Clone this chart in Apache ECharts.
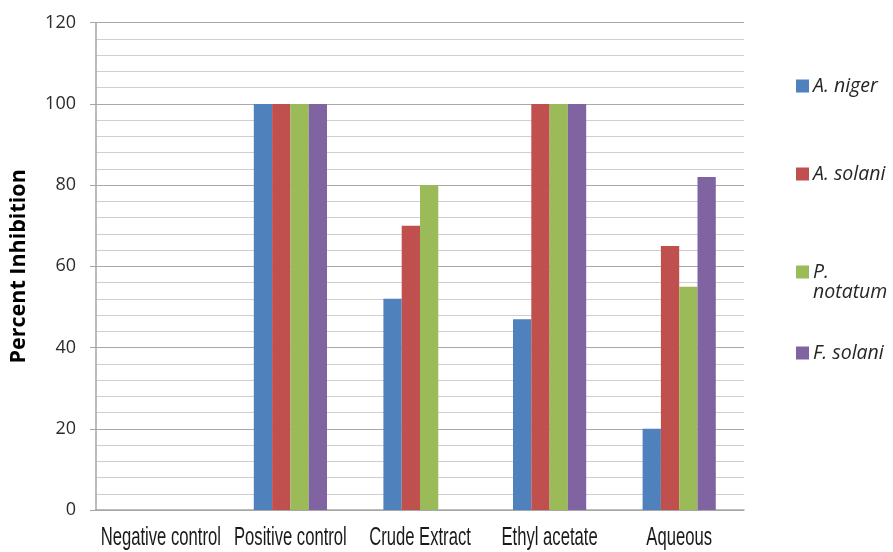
<!DOCTYPE html>
<html>
<head>
<meta charset="utf-8">
<script src="https://cdn.jsdelivr.net/npm/echarts@6/dist/echarts.min.js"></script>
<style>
  html, body { margin: 0; padding: 0; background: #fff; }
  #chart { width: 893px; height: 552px; }
</style>
</head>
<body>
<div id="chart"></div>
<script>
// Treatments along the x axis
const categories = ['Negative control', 'Positive control', 'Crude Extract', 'Ethyl acetate', 'Aqueous'];

// Percent inhibition per fungus
const aNiger    = [0, 100, 52, 47, 20];
const aSolani   = [0, 100, 70, 100, 65];
const pNotatum  = [0, 100, 80, 100, 55];
const fSolani   = [0, 100, 0, 100, 82];

const seriesNames  = ['A. niger', 'A. solani', 'P. notatum', 'F. solani'];
const seriesColors = ['#4F81BD', '#C0504D', '#9BBB59', '#8064A2'];
const seriesData   = [aNiger, aSolani, pNotatum, fSolani];

const yTicks = { min: 0, max: 120, interval: 20 };

const chart = echarts.init(document.getElementById('chart'), null, { renderer: 'canvas' });

// One legend block per fungus so each sits at its own height on the right
const LINE_H = 20;
const legendTops = [76, 164, 242, 343];
const legends = seriesNames.map((name, i) => ({
  data: [name],
  orient: 'vertical',
  left: 796,
  top: legendTops[i],
  padding: 0,
  itemWidth: 13,
  itemHeight: 13,
  itemGap: 0,
  selectedMode: false,
  icon: 'rect',
  // the long name wraps; a blank first line keeps the swatch beside "P."
  formatter: n => (n === 'P. notatum' ? ' \nP.\nnotatum' : n),
  textStyle: {
    fontFamily: 'Open Sans',
    fontStyle: 'italic',
    fontSize: 19.5,
    color: '#262626',
    lineHeight: LINE_H,
    padding: [0, 0, 0, -1]
  }
}));

const option = {
  animation: false,
  backgroundColor: '#ffffff',
  grid: { left: 95, right: 149, top: 22.7, bottom: 42, containLabel: false },
  legend: legends,
  xAxis: {
    type: 'category',
    data: categories,
    axisLine: { lineStyle: { color: '#a6a6a6', width: 1.5 } },
    axisTick: { show: false },
    axisLabel: { show: false },
    splitLine: { show: false }
  },
  yAxis: {
    type: 'value',
    min: yTicks.min,
    max: yTicks.max,
    interval: yTicks.interval,
    name: 'Percent Inhibition',
    nameLocation: 'middle',
    nameGap: 66,
    nameTextStyle: { fontFamily: 'Open Sans', fontWeight: 'bold', fontSize: 21.5, color: '#000' },
    axisLine: { show: true, lineStyle: { color: '#a6a6a6', width: 1.5 } },
    axisTick: { show: true, length: 6, lineStyle: { color: '#a6a6a6' } },
    axisLabel: { fontFamily: 'Open Sans', fontSize: 18, color: '#2b2b2b', margin: 20 },
    splitLine: { show: true, lineStyle: { color: '#a9a9a9', width: 1 } },
    minorTick: { show: false, splitNumber: 5 },
    minorSplitLine: { show: true, lineStyle: { color: '#cfcfcf', width: 1 } }
  },
  series: seriesData.map((d, i) => ({
    name: seriesNames[i],
    type: 'bar',
    data: d,
    barWidth: 18.3,
    barGap: '0%',
    itemStyle: { color: seriesColors[i] }
  }))
};

chart.setOption(option);

// Condensed category labels placed at each category's axis position
const labelGraphics = categories.map(c => {
  const p = chart.convertToPixel({ xAxisIndex: 0, yAxisIndex: 0 }, [c, 0]);
  return {
    type: 'text',
    x: p[0],
    y: 538,
    scaleX: 0.64,
    style: {
      text: c,
      fontFamily: 'Liberation Sans',
      fontSize: 26,
      fill: '#1a1a1a',
      align: 'center',
      verticalAlign: 'middle'
    }
  };
});
chart.setOption({ graphic: labelGraphics });
</script>
</body>
</html>
